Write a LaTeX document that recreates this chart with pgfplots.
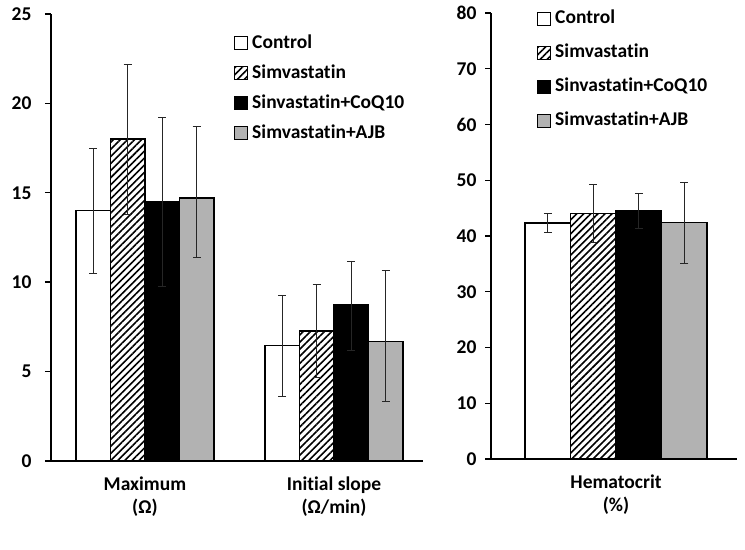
\documentclass[border=0pt]{standalone}
\usepackage{pgfplots}
\pgfplotsset{compat=1.18}
\usepackage{fontspec}
\setmainfont{Carlito}[Ligatures=NoCommon]
\usetikzlibrary{patterns.meta}
\definecolor{barGray}{RGB}{178,178,178}
\pgfplotsset{
  common/.style={
    scale only axis,
    axis x line=bottom, axis y line=left,
    axis line style={line width=1.8bp,-},
    font=\fontsize{19.5bp}{23bp}\selectfont\bfseries,
    ticklabel style={font=\fontsize{19.5bp}{23bp}\selectfont\bfseries},
    /pgf/number format/assume math mode=true,
    ytick style={line width=1.4bp, black},
    tick align=outside,
    major tick length=6bp,
    xtick style={draw=none},
    xticklabel style={align=center, yshift=-6bp},
    ybar,
    error bars/error bar style={line width=0.8bp, black!85},
    error bars/error mark options={rotate=90, mark size=4bp, line width=0.8bp, black!85},
    legend image code/.code={\draw[#1, line width=1bp] (0bp,-6.5bp) rectangle (13bp,6.5bp);},
    legend style={draw=none, fill=none, anchor=north west,
      font=\fontsize{19.5bp}{23bp}\selectfont\bfseries,
      nodes={inner sep=0pt, text height=14bp, text depth=4.5bp, anchor=west},
      column sep=4bp},
  },
}
\begin{document}
\begin{tikzpicture}
\path[use as bounding box] (0,0) rectangle (745bp,550bp);
% Left panel
\begin{axis}[common,
  at={(51bp,89bp)}, anchor=south west,
  width=372bp, height=447bp,
  xmin=-0.497, xmax=1.471, ymin=0, ymax=25,
  ytick={0,5,10,15,20,25},
  yticklabel style={xshift=-10bp},
  xtick={0,1},
  xticklabels={{Maximum\\(Ω)},{Initial slope\\(Ω/min)}},
  bar width=34.5bp,
  legend style={at={(0.484,0.96)}, row sep=11.5bp},
]
\addplot[fill=white, draw=black, line width=1.5bp, bar shift=-51.75bp,
  error bars/.cd, y dir=both, y explicit]
  coordinates {(0,14.0) += (0,3.5) -= (0,3.5) (1,6.45) += (0,2.82) -= (0,2.81)};
\addplot[pattern={Lines[angle=45, distance=5bp, line width=1.6bp]}, pattern color=black, draw=black, line width=1.5bp, bar shift=-17.25bp,
  error bars/.cd, y dir=both, y explicit]
  coordinates {(0,18.0) += (0,4.2) -= (0,4.2) (1,7.27) += (0,2.6) -= (0,2.6)};
\addplot[fill=black, draw=black, line width=1.5bp, bar shift=17.25bp,
  error bars/.cd, y dir=both, y explicit]
  coordinates {(0,14.5) += (0,4.7) -= (0,4.75) (1,8.72) += (0,2.47) -= (0,2.52)};
\addplot[fill=barGray, draw=black, line width=1.5bp, bar shift=51.75bp,
  error bars/.cd, y dir=both, y explicit]
  coordinates {(0,14.7) += (0,4.0) -= (0,3.3) (1,6.67) += (0,3.97) -= (0,3.31)};
\legend{Control, Simvastatin, Sinvastatin+CoQ10, Simvastatin+AJB}
\end{axis}
% Right panel
\begin{axis}[common,
  at={(491bp,91bp)}, anchor=south west,
  width=246bp, height=446bp,
  xmin=-1, xmax=0.968, ymin=0, ymax=80,
  ytick={0,10,20,30,40,50,60,70,80},
  yticklabel style={xshift=-5bp},
  xtick={0},
  xticklabels={{Hematocrit\\(\%)}},
  bar width=45.5bp,
  legend style={at={(0.175,1.012)}, row sep=15.5bp},
]
\addplot[fill=white, draw=black, line width=1.5bp, bar shift=-68.25bp,
  error bars/.cd, y dir=both, y explicit]
  coordinates {(0,42.3) += (0,1.7) -= (0,1.7)};
\addplot[pattern={Lines[angle=45, distance=5bp, line width=1.6bp]}, pattern color=black, draw=black, line width=1.5bp, bar shift=-22.75bp,
  error bars/.cd, y dir=both, y explicit]
  coordinates {(0,44.0) += (0,5.2) -= (0,5.2)};
\addplot[fill=black, draw=black, line width=1.5bp, bar shift=22.75bp,
  error bars/.cd, y dir=both, y explicit]
  coordinates {(0,44.5) += (0,3.1) -= (0,3.1)};
\addplot[fill=barGray, draw=black, line width=1.5bp, bar shift=68.25bp,
  error bars/.cd, y dir=both, y explicit]
  coordinates {(0,42.4) += (0,7.2) -= (0,7.3)};
\legend{Control, Simvastatin, Sinvastatin+CoQ10, Simvastatin+AJB}
\end{axis}
\end{tikzpicture}
\end{document}
